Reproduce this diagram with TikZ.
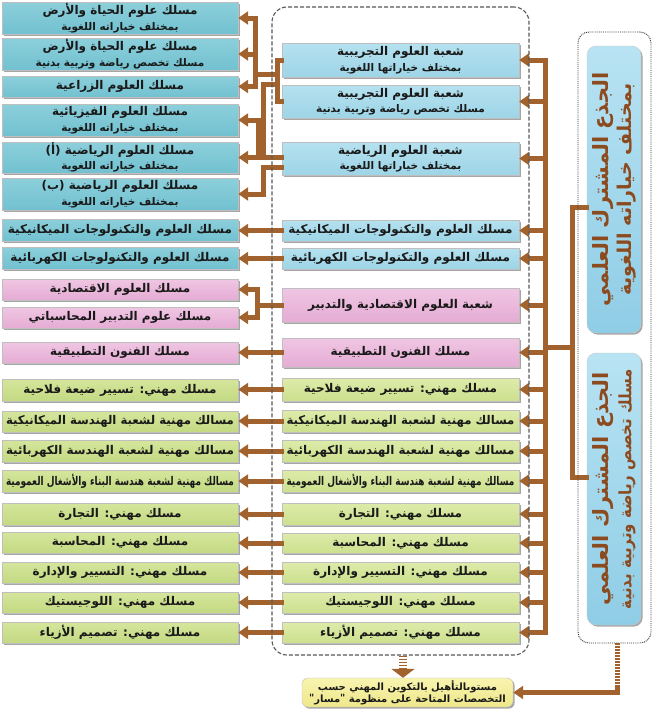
\documentclass[tikz,border=0pt]{standalone}
\usepackage{fontspec}
\usepackage{graphicx}
\usetikzlibrary{arrows.meta,shadows}
\TeXXeTstate=1
\newfontfamily\arabicfont[Script=Arabic]{DejaVu Sans}
\newsavebox\fitbox
\newcommand\fitline[2]{\sbox\fitbox{#2}\dimen0=\wd\fitbox\relax
  \ifdim\dimen0>#1pt\relax\pgfmathsetmacro\fitr{#1/\the\dimen0}\scalebox{\fitr}[1]{\usebox\fitbox}\else\usebox\fitbox\fi}
\newcommand\one[1]{\fitline{228}{#1}}
\newcommand\two[2]{\fitline{228}{#1}\\{\fontsize{10.5}{12}\selectfont\fitline{228}{#2}}}
\newcommand\qm{\hbox{\raise1pt\hbox{"}}}
\definecolor{brn}{HTML}{A2622D}
\definecolor{rtxt}{HTML}{8C4A1F}
\definecolor{lbt}{HTML}{8CCFDB}\definecolor{lbb}{HTML}{72C1D0}
\definecolor{mbt}{HTML}{B5E1EF}\definecolor{mbb}{HTML}{9DD5E7}
\definecolor{pkt}{HTML}{F0C6E3}\definecolor{pkb}{HTML}{E5ACD4}
\definecolor{lgt}{HTML}{D5E69C}\definecolor{lgb}{HTML}{C3D982}
\definecolor{mgt}{HTML}{DEEBAA}\definecolor{mgb}{HTML}{CCE08E}
\definecolor{rbt}{HTML}{B8E3F3}\definecolor{rbb}{HTML}{8FCDE6}
\definecolor{ylt}{HTML}{F8F4B0}\definecolor{ylb}{HTML}{EEE78A}
\tikzset{
  base/.style={draw=black!25, line width=0.4pt, inner sep=0pt, align=center, text=black!90,
    font=\arabicfont\bfseries\fontsize{12}{15.5}\selectfont,
    drop shadow={shadow xshift=1.6pt, shadow yshift=-1.6pt, opacity=0.35, fill=black}},
  lcol/.style={base, minimum width=236pt},
  mcol/.style={base, minimum width=237pt},
  lblue/.style={lcol, top color=lbt, bottom color=lbb},
  mblue/.style={mcol, top color=mbt, bottom color=mbb},
  lpink/.style={lcol, top color=pkt, bottom color=pkb},
  mpink/.style={mcol, top color=pkt, bottom color=pkb},
  lgreen/.style={lcol, top color=lgt, bottom color=lgb},
  mgreen/.style={mcol, top color=mgt, bottom color=mgb},
  rbox/.style={draw=black!20, line width=0.4pt, rounded corners=9pt, minimum width=54pt,
    top color=rbt, bottom color=rbb,
    drop shadow={shadow xshift=1.6pt, shadow yshift=-1.6pt, opacity=0.35, fill=black}},
  rtext/.style={inner sep=0pt, align=center, text=rtxt, rotate=90,
    font=\arabicfont\bfseries\fontsize{21}{23}\selectfont},
  ybox/.style={base, rounded corners=6pt, minimum width=211pt, minimum height=29pt,
    top color=ylt, bottom color=ylb, font=\arabicfont\bfseries\fontsize{10}{12.5}\selectfont},
  conn/.style={draw=brn, line width=5pt, line cap=rect, line join=miter},
  arr/.style={conn, -{Triangle[length=10pt,width=13pt]}},
  frameM/.style={draw=black!65, line width=1.1pt, dash pattern=on 4pt off 2pt, rounded corners=15pt},
  frameR/.style={draw=black!80, line width=0.9pt, densely dotted, rounded corners=11pt},
  hatch/.style={draw=brn, dash pattern=on 1.8pt off 1.2pt},
}
\begin{document}
\begin{tikzpicture}[x=1pt,y=-1pt]
\fill[white] (0,0) rectangle (652,715);
\useasboundingbox (0,0) rectangle (652,715);

% ---------- left column ----------
\node[lblue, minimum height=32pt] (l1) at (120,18) {\two{\beginR مسلك علوم الحياة والأرض\endR}{\beginR بمختلف خياراته اللغوية\endR}};
\node[lblue, minimum height=32pt] (l2) at (120,54) {\two{\beginR مسلك علوم الحياة والأرض\endR}{\beginR مسلك تخصص رياضة وتربية بدنية\endR}};
\node[lblue, minimum height=21pt] (l3) at (120,86.5) {\one{\beginR مسلك العلوم الزراعية\endR}};
\node[lblue, minimum height=32pt] (l4) at (120,120) {\two{\beginR مسلك العلوم الفيزيائية\endR}{\beginR بمختلف خياراته اللغوية\endR}};
\node[lblue, minimum height=31pt] (l5) at (120,157.5) {\two{\beginR مسلك العلوم الرياضية (أ)\endR}{\beginR بمختلف خياراته اللغوية\endR}};
\node[lblue, minimum height=32pt] (l6) at (120,194) {\two{\beginR مسلك العلوم الرياضية (ب)\endR}{\beginR بمختلف خياراته اللغوية\endR}};
\node[lblue, minimum height=22pt] (l7) at (120,230) {\one{\beginR مسلك العلوم والتكنولوجات الميكانيكية\endR}};
\node[lblue, minimum height=22pt] (l8) at (120,258) {\one{\beginR مسلك العلوم والتكنولوجات الكهربائية\endR}};
\node[lpink, minimum height=21pt] (l9) at (120,289.5) {\one{\beginR مسلك العلوم الاقتصادية\endR}};
\node[lpink, minimum height=21pt] (l10) at (120,317.5) {\one{\beginR مسلك علوم التدبير المحاسباتي\endR}};
\node[lpink, minimum height=21pt] (l11) at (120,352.5) {\one{\beginR مسلك الفنون التطبيقية\endR}};
\node[lgreen, minimum height=22pt] (l12) at (120,390) {\one{\beginR مسلك مهني: تسيير ضيعة فلاحية\endR}};
\node[lgreen, minimum height=21pt] (l13) at (120,421.5) {\one{\beginR مسالك مهنية لشعبة الهندسة الميكانيكية\endR}};
\node[lgreen, minimum height=22pt] (l14) at (120,451) {\one{\beginR مسالك مهنية لشعبة الهندسة الكهربائية\endR}};
\node[lgreen, minimum height=22pt] (l15) at (120,481) {\one{\beginR مسالك مهنية لشعبة هندسة البناء والأشغال العمومية\endR}};
\node[lgreen, minimum height=22pt] (l16) at (120,514) {\one{\beginR مسلك مهني: التجارة\endR}};
\node[lgreen, minimum height=21pt] (l17) at (120,542.5) {\one{\beginR مسلك مهني: المحاسبة\endR}};
\node[lgreen, minimum height=21pt] (l18) at (120,572.5) {\one{\beginR مسلك مهني: التسيير والإدارة\endR}};
\node[lgreen, minimum height=21pt] (l19) at (120,602.5) {\one{\beginR مسلك مهني: اللوجيستيك\endR}};
\node[lgreen, minimum height=21pt] (l20) at (120,632.5) {\one{\beginR مسلك مهني: تصميم الأزياء\endR}};

% ---------- middle column ----------
\node[mblue, minimum height=34pt] (mA) at (400.5,60) {\two{\beginR شعبة العلوم التجريبية\endR}{\beginR بمختلف خياراتها اللغوية\endR}};
\node[mblue, minimum height=33pt] (mB) at (400.5,101.5) {\two{\beginR شعبة العلوم التجريبية\endR}{\beginR مسلك تخصص رياضة وتربية بدنية\endR}};
\node[mblue, minimum height=33pt] (mC) at (400.5,158.5) {\two{\beginR شعبة العلوم الرياضية\endR}{\beginR بمختلف خياراتها اللغوية\endR}};
\node[mblue, minimum height=21pt] (mD) at (400.5,230.5) {\one{\beginR مسلك العلوم والتكنولوجات الميكانيكية\endR}};
\node[mblue, minimum height=21pt] (mE) at (400.5,258.5) {\one{\beginR مسلك العلوم والتكنولوجات الكهربائية\endR}};
\node[mpink, minimum height=34pt] (mF) at (400.5,305) {\one{\beginR شعبة العلوم الاقتصادية والتدبير\endR}};
\node[mpink, minimum height=29pt] (mG) at (400.5,352.5) {\one{\beginR مسلك الفنون التطبيقية\endR}};
\node[mgreen, minimum height=23pt] (mH) at (400.5,389.5) {\one{\beginR مسلك مهني: تسيير ضيعة فلاحية\endR}};
\node[mgreen, minimum height=22pt] (mI) at (400.5,421) {\one{\beginR مسالك مهنية لشعبة الهندسة الميكانيكية\endR}};
\node[mgreen, minimum height=22pt] (mJ) at (400.5,451) {\one{\beginR مسالك مهنية لشعبة الهندسة الكهربائية\endR}};
\node[mgreen, minimum height=22pt] (mK) at (400.5,481) {\one{\beginR مسالك مهنية لشعبة هندسة البناء والأشغال العمومية\endR}};
\node[mgreen, minimum height=22pt] (mL) at (400.5,514) {\one{\beginR مسلك مهني: التجارة\endR}};
\node[mgreen, minimum height=20pt] (mM) at (400.5,543) {\one{\beginR مسلك مهني: المحاسبة\endR}};
\node[mgreen, minimum height=21pt] (mN) at (400.5,572.5) {\one{\beginR مسلك مهني: التسيير والإدارة\endR}};
\node[mgreen, minimum height=21pt] (mO) at (400.5,602.5) {\one{\beginR مسلك مهني: اللوجيستيك\endR}};
\node[mgreen, minimum height=21pt] (mP) at (400.5,632.5) {\one{\beginR مسلك مهني: تصميم الأزياء\endR}};

% ---------- right column ----------
\node[rbox, minimum height=287pt] (R1) at (614,189.5) {};
\node[rtext] (R1t) at (R1.center) {\fitline{262}{\beginR الجذع المشترك العلمي\endR}\\{\fontsize{19}{21}\selectfont\fitline{262}{\beginR بمختلف خياراته اللغوية\endR}}};
\node[rbox, minimum height=272pt] (R2) at (614,489) {};
\node[rtext] (R2t) at (R2.center) {\fitline{240}{\beginR الجذع المشترك العلمي\endR}\\{\fontsize{17}{19}\selectfont\fitline{240}{\beginR مسلك تخصص رياضة وتربية بدنية\endR}}};

% ---------- bottom box ----------
\node[ybox] (bot) at (407.5,692.5) {\fitline{200}{\beginR مستوىالتأهيل بالتكوين المهني حسب\endR}\\\fitline{200}{\beginR التخصصات المتاحة على منظومة \qm مسار\qm\endR}};

% ---------- right trunk ----------
\coordinate (tr) at (545,0);
\draw[conn] (mA.east -| tr) -- (mP.east -| tr);
\foreach \m in {mA,mB,mC,mD,mE,mF,mG,mH,mI,mJ,mK,mL,mM,mN,mO,mP}
  \draw[arr] (\m.east -| tr) -- (\m.east);
\coordinate (j1) at (572,207);
\coordinate (j2) at (572,477);
\coordinate (j3) at (572,347);
\draw[conn] (j1 -| R1.west) -- (j1) -- (j2) -- (j2 -| R2.west);
\draw[conn] (j3) -- (j3 -| tr);

% ---------- left connectors ----------
\coordinate (g1) at (277,74);
\coordinate (g2) at (277,84);
\coordinate (v1) at (255,0);
\coordinate (v2) at (263,0);
\coordinate (v3) at (258,0);
\coordinate (v4) at (257,0);
\coordinate (c2) at (0,167);
\draw[conn] (mA.west) -| (g1) |- (mB.west);
\draw[conn] (g1) -- (g1 -| v1);
\draw[conn] (l1.east -| v1) -- (l3.east -| v1);
\foreach \l in {l1,l2,l3} \draw[arr] (\l.east -| v1) -- (\l.east);
\draw[conn] (g2) -- (g2 -| v2) -- (v2 |- l5.east);
\draw[arr] (mC.west |- l5.east) -- (l5.east);
\draw[conn] (v3 |- l4.east) -- (v3 |- l5.east);
\draw[arr] (v3 |- l4.east) -- (l4.east);
\draw[arr] (mC.west |- c2) -| (v2 |- l6.east) -- (l6.east);
\draw[conn] (mF.west) -- (mF.west -| v4);
\draw[conn] (v4 |- l9.east) -- (v4 |- l10.east);
\draw[arr] (v4 |- l9.east) -- (l9.east);
\draw[arr] (v4 |- l10.east) -- (l10.east);
\draw[arr] (mD.west) -- (mD.west -| l7.east);
\draw[arr] (mE.west) -- (mE.west -| l8.east);
\draw[arr] (mG.west) -- (mG.west -| l11.east);
\draw[arr] (mH.west) -- (mH.west -| l12.east);
\draw[arr] (mI.west) -- (mI.west -| l13.east);
\draw[arr] (mJ.west) -- (mJ.west -| l14.east);
\draw[arr] (mK.west) -- (mK.west -| l15.east);
\draw[arr] (mL.west) -- (mL.west -| l16.east);
\draw[arr] (mM.west) -- (mM.west -| l17.east);
\draw[arr] (mN.west) -- (mN.west -| l18.east);
\draw[arr] (mO.west) -- (mO.west -| l19.east);
\draw[arr] (mP.west) -- (mP.west -| l20.east);

% ---------- frames ----------
\node[frameM, minimum width=257pt, minimum height=648pt, inner sep=0pt] (fM) at (400.5,331) {};
\node[frameR, minimum width=73pt, minimum height=611pt, inner sep=0pt] (fR) at (614.5,337.5) {};

% ---------- bottom connectors ----------
\coordinate (b1) at (403,0);
\coordinate (b2) at (403,668);
\draw[hatch, line width=8pt] (b1 |- fM.south) -- (b2);
\draw[draw=brn, line width=8pt, -{Triangle[length=9pt,width=23pt]}] (b2) -- (b1 |- bot.north);
\coordinate (h1) at (617,688);
\draw[hatch, line width=5pt] (h1 |- fR.south) -- (h1);
\draw[arr] (h1) |- (bot.east);
\end{tikzpicture}
\end{document}
